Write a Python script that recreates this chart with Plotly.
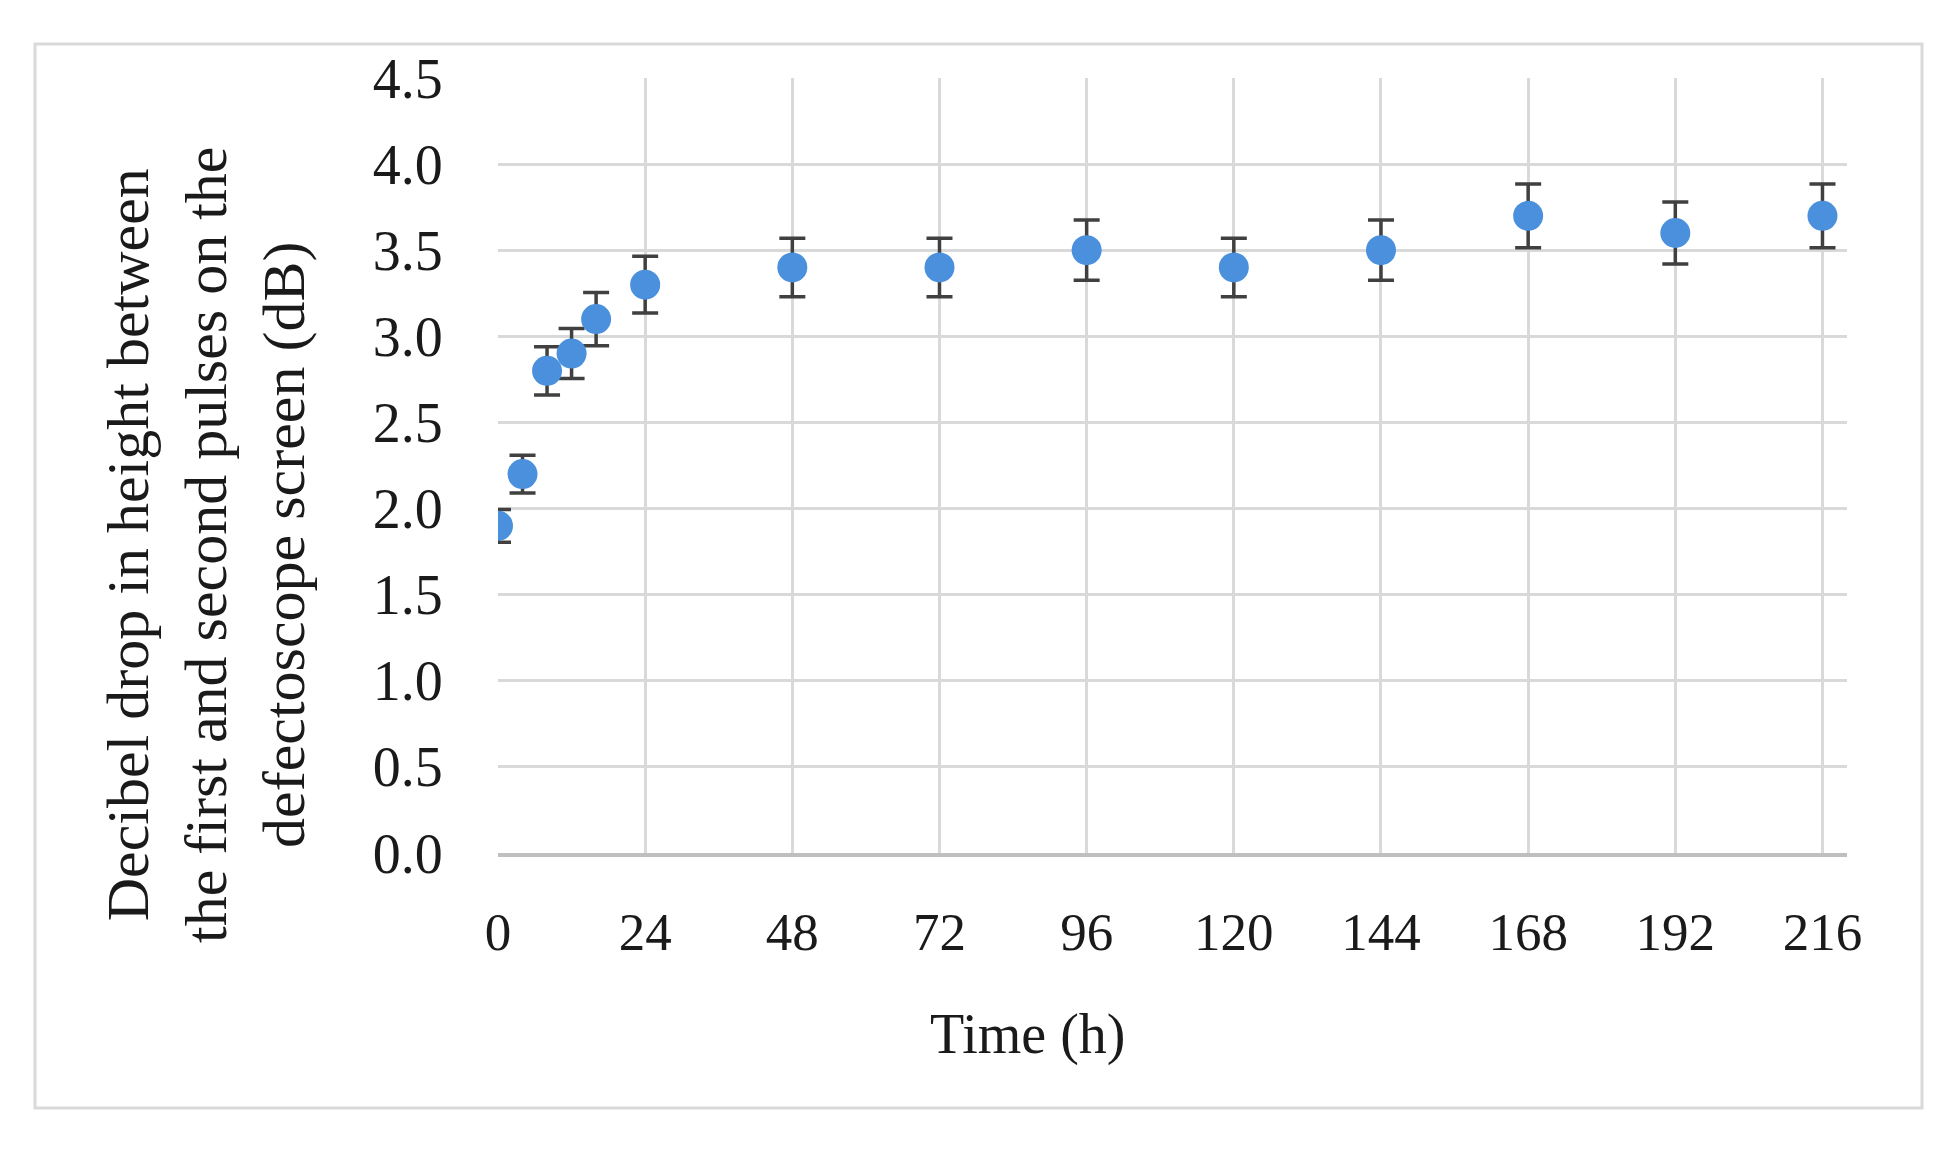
import plotly.graph_objects as go

# Data
time_h = [0, 4, 8, 12, 16, 24, 48, 72, 96, 120, 144, 168, 192, 216]
db_drop = [1.9, 2.2, 2.8, 2.9, 3.1, 3.3, 3.4, 3.4, 3.5, 3.4, 3.5, 3.7, 3.6, 3.7]
db_err = [0.095, 0.11, 0.14, 0.145, 0.155, 0.165, 0.17, 0.17, 0.175, 0.17, 0.175, 0.185, 0.18, 0.185]
x_ticks = [0, 24, 48, 72, 96, 120, 144, 168, 192, 216]
y_ticks = [0.0, 0.5, 1.0, 1.5, 2.0, 2.5, 3.0, 3.5, 4.0, 4.5]
x_title = "Time (h)"
y_title_lines = ["Decibel drop in height between",
                 "the first and second pulses on the",
                 "defectoscope screen (dB)"]

FONT = "Liberation Serif"
OFF = 8  # default page body margin
W, H = 1953 - OFF, 1153 - OFF
L, R, T, B = 498 - OFF, 1847 - OFF, 78 - OFF, 853 - OFF  # plot area in pixels


def px(xp):
    return (xp - OFF - L) / (R - L)


def py(yp):
    return (B - (yp - OFF)) / (B - T)


fig = go.Figure()
fig.add_trace(go.Scatter(
    x=time_h, y=db_drop, mode="markers",
    marker=dict(size=30, color="#4a90dc", line=dict(width=0)),
    error_y=dict(type="data", array=db_err, visible=True,
                 color="#404040", thickness=3.5, width=13),
    showlegend=False,
))

fig.update_layout(
    width=W, height=H, autosize=False,
    margin=dict(l=L, r=W - R, t=T, b=H - B, pad=0),
    paper_bgcolor="white", plot_bgcolor="white",
    font=dict(family=FONT, size=53, color="#1a1a1a"),
    xaxis=dict(range=[0, 220], tickvals=x_ticks,
               ticktext=[str(v) for v in x_ticks],
               showgrid=True, gridcolor="#d9d9d9", gridwidth=2.5,
               zeroline=False, showline=True, linecolor="#bfbfbf", linewidth=4,
               ticks="outside", ticklen=29, tickcolor="rgba(0,0,0,0)",
               tickfont=dict(family=FONT, size=53)),
    yaxis=dict(range=[0, 4.5], tickvals=y_ticks,
               ticktext=[f"{v:.1f}" for v in y_ticks],
               showgrid=True, gridcolor="#d9d9d9", gridwidth=2.5,
               zeroline=False, showline=False,
               ticks="outside", ticklen=43, tickcolor="rgba(0,0,0,0)",
               tickfont=dict(family=FONT, size=56)),
)

# outer chart border
fig.add_shape(type="rect", xref="paper", yref="paper",
              x0=px(35), x1=px(1922), y0=py(1108), y1=py(44),
              line=dict(color="#d9d9d9", width=3), fillcolor="rgba(0,0,0,0)",
              layer="below")

# axis titles
fig.add_annotation(text=x_title, xref="paper", yref="paper",
                   x=px(1028), y=py(1034), xanchor="center", yanchor="middle",
                   showarrow=False, font=dict(family=FONT, size=56, color="#1a1a1a"))
fig.add_annotation(text="<br>".join(y_title_lines), xref="paper", yref="paper",
                   x=px(206), y=py(545), xanchor="center", yanchor="middle",
                   textangle=-90, showarrow=False,
                   font=dict(family=FONT, size=60, color="#1a1a1a"))

fig.write_html("out.html")
